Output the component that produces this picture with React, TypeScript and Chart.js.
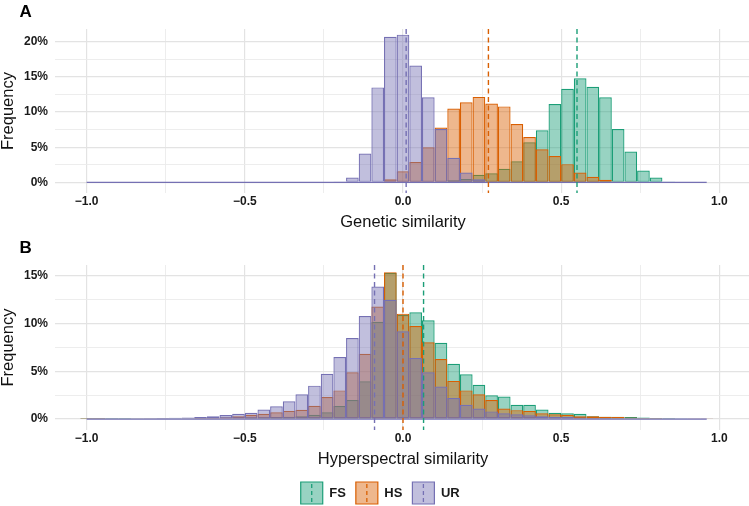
import React, { useEffect, useRef } from "react";
import { Chart, registerables } from "chart.js";

Chart.register(...registerables);

const FONT = "'Liberation Sans', Arial, Helvetica, sans-serif";
Chart.defaults.font.family = FONT;

// ---------- data ----------
const binCenters = [
  -1.0, -0.96, -0.92, -0.88, -0.84, -0.8, -0.76, -0.72, -0.68, -0.64,
  -0.6, -0.56, -0.52, -0.48, -0.44, -0.4, -0.36, -0.32, -0.28, -0.24,
  -0.2, -0.16, -0.12, -0.08, -0.04, 0.0, 0.04, 0.08, 0.12, 0.16,
  0.2, 0.24, 0.28, 0.32, 0.36, 0.4, 0.44, 0.48, 0.52, 0.56,
  0.6, 0.64, 0.68, 0.72, 0.76, 0.8, 0.84, 0.88, 0.92, 0.96,
];

const groups = ["FS", "HS", "UR"];
const groupColors = ["#1b9e77", "#d95f02", "#7570b3"];
const groupFills = ["rgba(27,158,119,0.45)", "rgba(217,95,2,0.45)", "rgba(117,112,179,0.45)"];

// Panel A: genetic similarity (percent per bin)
const geneticFS = [
  0, 0, 0, 0, 0, 0, 0, 0, 0, 0,
  0, 0, 0, 0, 0, 0, 0, 0, 0, 0,
  0, 0, 0, 0, 0, 0, 0, 0.05, 0.15, 0.3,
  0.5, 1.1, 1.3, 1.95, 3.0, 5.7, 7.4, 11.15, 13.3, 14.8,
  13.6, 12.1, 7.6, 4.4, 1.7, 0.7, 0.05, 0, 0, 0,
];
const geneticHS = [
  0, 0, 0, 0, 0, 0, 0, 0, 0, 0,
  0, 0, 0, 0, 0, 0, 0, 0, 0, 0,
  0, 0, 0, 0.1, 0.45, 1.6, 2.9, 5.0, 7.8, 10.5,
  11.4, 12.15, 11.2, 10.8, 8.3, 6.45, 4.7, 3.75, 2.6, 1.4,
  0.8, 0.4, 0.15, 0.05, 0, 0, 0, 0, 0, 0,
];
const geneticUR = [
  0, 0, 0, 0, 0, 0, 0, 0, 0, 0,
  0, 0, 0, 0, 0, 0, 0, 0, 0, 0,
  0.15, 0.7, 4.1, 13.5, 20.7, 21.0, 16.6, 12.1, 7.6, 3.5,
  1.4, 0.45, 0.15, 0.05, 0, 0, 0, 0, 0, 0,
  0, 0, 0, 0, 0, 0, 0, 0, 0, 0,
];
const geneticMeans = [0.55, 0.27, 0.01];

// Panel B: hyperspectral similarity (percent per bin)
const hyperFS = [
  0.01, 0.01, 0.01, 0.01, 0.02, 0.02, 0.02, 0.03, 0.03, 0.04,
  0.05, 0.06, 0.08, 0.1, 0.15, 0.2, 0.25, 0.3, 0.45, 0.7,
  1.36, 2.0, 3.95, 10.2, 15.3, 10.9, 11.2, 10.35, 8.0, 5.8,
  4.7, 3.6, 2.5, 2.35, 1.5, 1.5, 1.0, 0.65, 0.6, 0.55,
  0.3, 0.25, 0.25, 0.2, 0.15, 0.12, 0.1, 0.08, 0.06, 0.05,
];
const hyperHS = [
  0.01, 0.01, 0.02, 0.02, 0.03, 0.03, 0.04, 0.05, 0.07, 0.1,
  0.13, 0.18, 0.28, 0.45, 0.56, 0.7, 0.85, 0.98, 1.4, 2.3,
  3.0, 4.9, 6.85, 11.8, 15.4, 11.05, 9.75, 8.05, 6.3, 4.0,
  3.0, 2.6, 2.0, 1.1, 0.93, 0.85, 0.6, 0.5, 0.45, 0.3,
  0.3, 0.25, 0.2, 0.15, 0.12, 0.1, 0.08, 0.06, 0.04, 0.03,
];
const hyperUR = [
  0.03, 0.03, 0.04, 0.05, 0.06, 0.08, 0.1, 0.13, 0.17, 0.22,
  0.3, 0.42, 0.55, 0.66, 1.0, 1.33, 1.86, 2.6, 3.5, 4.75,
  6.5, 8.5, 10.8, 13.9, 12.5, 9.2, 6.4, 4.9, 3.4, 2.2,
  1.5, 1.1, 0.8, 0.6, 0.5, 0.4, 0.3, 0.25, 0.2, 0.15,
  0.12, 0.1, 0.08, 0.07, 0.06, 0.05, 0.04, 0.03, 0.02, 0.02,
];
const hyperMeans = [0.065, 0.0, -0.09];

const xTicks = [-1, -0.75, -0.5, -0.25, 0, 0.25, 0.5, 0.75, 1];
const xMajorTicks = [-1, -0.5, 0, 0.5, 1];
const yTicksA = [0, 2.5, 5, 7.5, 10, 12.5, 15, 17.5, 20];
const yTicksB = [0, 2.5, 5, 7.5, 10, 12.5, 15];

// ---------- plugin ----------
const decorPlugin = {
  id: "histDecor",
  afterDatasetsDraw(chart: any, _args: any, opts: any) {
    const { ctx, chartArea } = chart;
    const xs = chart.scales.x;
    const ys = chart.scales.y;
    ctx.save();
    // zero baseline (outline of the empty bins)
    const y0 = ys.getPixelForValue(0);
    ctx.strokeStyle = groupColors[2];
    ctx.lineWidth = 1.3;
    ctx.setLineDash([]);
    ctx.beginPath();
    ctx.moveTo(xs.getPixelForValue(binCenters[0]), y0);
    ctx.lineTo(xs.getPixelForValue(binCenters[binCenters.length - 1]), y0);
    ctx.stroke();
    // mean lines
    (opts.means || []).forEach((m: number, i: number) => {
      const x = xs.getPixelForValue(m);
      ctx.strokeStyle = groupColors[i];
      ctx.lineWidth = 1.4;
      ctx.setLineDash([5, 3.5]);
      ctx.beginPath();
      ctx.moveTo(x, chartArea.top);
      ctx.lineTo(x, chartArea.bottom);
      ctx.stroke();
    });
    ctx.restore();
  },
  afterDraw(chart: any, _args: any, opts: any) {
    const { ctx } = chart;
    ctx.save();
    ctx.fillStyle = "#000";
    ctx.font = `bold 17px ${FONT}`;
    ctx.textAlign = "left";
    ctx.textBaseline = "alphabetic";
    ctx.fillText(opts.label, 19.5, 17);
    const lg = chart.legend;
    if (opts.legendDash && lg && lg.legendHitBoxes) {
      lg.legendHitBoxes.forEach((hb: any, i: number) => {
        const item = lg.legendItems[i];
        const x = hb.left + 11;
        ctx.strokeStyle = groupColors[item.datasetIndex];
        ctx.lineWidth = 1.3;
        ctx.setLineDash([4, 3]);
        ctx.lineDashOffset = 0;
        ctx.beginPath();
        ctx.moveTo(x, hb.top + 2);
        ctx.lineTo(x, hb.top + 20);
        ctx.stroke();
      });
    }
    ctx.restore();
  },
};

const fmtX = (v: number) => (v < 0 ? "\u2212" : "") + Math.abs(v).toFixed(1);

function makeConfig(p: any): any {
  const series = p.series;
  return {
    type: "bar",
    data: {
      datasets: groups.map((g, i) => ({
        label: g,
        data: binCenters.map((c, k) => ({ x: c, y: series[i][k] })),
        backgroundColor: groupFills[i],
        borderColor: groupColors[i],
        borderWidth: 1.2,
        borderSkipped: false,
        grouped: false,
        categoryPercentage: 1,
        barPercentage: 1,
        inflateAmount: 0,
        order: 3 - i,
      })),
    },
    options: {
      responsive: false,
      animation: false,
      events: [],
      layout: { padding: { top: 29, left: p.padLeft, right: 1, bottom: 0 } },
      scales: {
        x: {
          type: "linear",
          min: -1.1,
          max: 1.1,
          offset: false,
          afterBuildTicks: (s: any) => {
            s.ticks = xTicks.map((v) => ({ value: v }));
          },
          afterFit: (s: any) => {
            s.height = p.xHeight;
          },
          ticks: {
            autoSkip: false,
            maxRotation: 0,
            padding: 1,
            color: "#1a1a1a",
            font: { size: 12, weight: "bold" },
            callback: (v: any) => (xMajorTicks.includes(v) ? fmtX(v) : ""),
          },
          grid: {
            offset: false,
            drawTicks: false,
            color: (c: any) => (xMajorTicks.includes(c.tick?.value) ? "#e3e3e3" : "#ebebeb"),
            lineWidth: (c: any) => (xMajorTicks.includes(c.tick?.value) ? 1.2 : 0.9),
          },
          border: { display: false },
          title: {
            display: true,
            text: p.xTitle,
            color: "#111",
            font: { size: 16.5, weight: "normal" },
            padding: { top: 0, bottom: p.titlePadBottom },
          },
        },
        y: {
          type: "linear",
          min: p.yMin,
          max: p.yMax,
          afterBuildTicks: (s: any) => {
            s.ticks = p.yTicks.map((v: number) => ({ value: v }));
          },
          afterFit: (s: any) => {
            s.width = p.yWidth;
          },
          ticks: {
            padding: 7,
            color: "#1a1a1a",
            font: { size: 12, weight: "bold" },
            callback: (v: any) => (v % 5 === 0 ? `${v}%` : ""),
          },
          grid: {
            drawTicks: false,
            color: (c: any) => (c.tick && c.tick.value % 5 === 0 ? "#e3e3e3" : "#ebebeb"),
            lineWidth: (c: any) => (c.tick && c.tick.value % 5 === 0 ? 1.2 : 0.9),
          },
          border: { display: false },
          title: {
            display: true,
            text: "Frequency",
            color: "#111",
            font: { size: 16.5, weight: "normal" },
            padding: { top: p.yTitlePadTop, bottom: 0 },
          },
        },
      },
      plugins: {
        legend: {
          display: p.legend,
          position: "bottom",
          align: "center",
          labels: {
            boxWidth: 22,
            boxHeight: 22,
            padding: 10,
            color: "#1a1a1a",
            font: { size: 13, weight: "bold" },
            sort: (a: any, b: any) => a.datasetIndex - b.datasetIndex,
          },
        },
        tooltip: { enabled: false },
        histDecor: { label: p.label, means: p.means, legendDash: p.legend },
      },
    },
    plugins: [decorPlugin],
  };
}

export default function App() {
  const refA = useRef<HTMLCanvasElement>(null);
  const refB = useRef<HTMLCanvasElement>(null);

  useEffect(() => {
    const a = new Chart(
      refA.current as HTMLCanvasElement,
      makeConfig({
        series: [geneticFS, geneticHS, geneticUR],
        means: geneticMeans,
        yMin: -1.5,
        yMax: 21.8,
        yTicks: yTicksA,
        xTitle: "Genetic similarity",
        label: "A",
        legend: false,
        padLeft: 0,
        yWidth: 55,
        yTitlePadTop: -1.9,
        xHeight: 40,
        titlePadBottom: 0.4,
      })
    );
    const b = new Chart(
      refB.current as HTMLCanvasElement,
      makeConfig({
        series: [hyperFS, hyperHS, hyperUR],
        means: hyperMeans,
        yMin: -1.15,
        yMax: 16.15,
        yTicks: yTicksB,
        xTitle: "Hyperspectral similarity",
        label: "B",
        legend: true,
        padLeft: 9.4,
        yWidth: 45.6,
        yTitlePadTop: -11.3,
        xHeight: 42,
        titlePadBottom: 2.8,
      })
    );
    return () => {
      a.destroy();
      b.destroy();
    };
  }, []);

  return (
    <div
      style={{
        position: "fixed",
        left: 0,
        top: 0,
        width: 749,
        height: 506,
        overflow: "hidden",
        background: "#ffffff",
      }}
    >
      <canvas
        ref={refA}
        width={752}
        height={233}
        style={{ position: "absolute", left: 0, top: 0, width: 752, height: 233 }}
      />
      <canvas
        ref={refB}
        width={752}
        height={278}
        style={{ position: "absolute", left: 0, top: 236, width: 752, height: 278 }}
      />
    </div>
  );
}
